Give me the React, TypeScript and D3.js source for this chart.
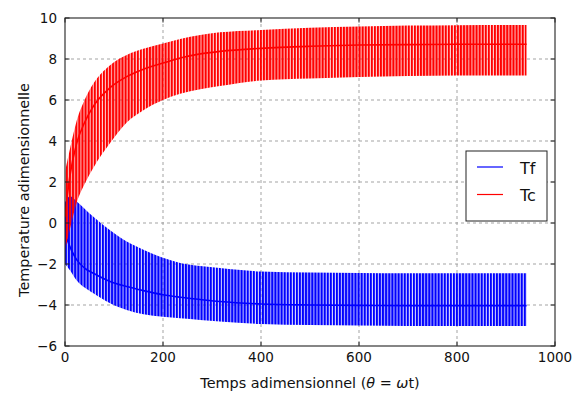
import React from "react";
import * as d3 from "d3";

// theta samples (x) where envelopes were read
const theta = [0, 10, 24, 40, 58, 92, 126, 160, 200, 235, 276, 316, 400, 500, 600, 700, 800, 942];

// Tc (red): upper envelope, central (dense) line, lower envelope
const tcUpper = [2.5, 3.6, 5.0, 6.0, 6.8, 7.7, 8.2, 8.5, 8.76, 8.98, 9.17, 9.3, 9.42, 9.52, 9.58, 9.63, 9.65, 9.66];
const tcMid = [0.3, 2.3, 3.9, 4.9, 5.7, 6.6, 7.14, 7.5, 7.8, 8.05, 8.25, 8.37, 8.52, 8.62, 8.68, 8.7, 8.72, 8.72];
const tcLower = [-1.3, -0.3, 1.0, 1.9, 2.7, 3.9, 4.9, 5.5, 6.0, 6.3, 6.52, 6.68, 6.95, 7.05, 7.12, 7.17, 7.2, 7.2];

// Tf (blue)
const tfUpper = [1.0, 1.3, 1.05, 0.7, 0.3, -0.35, -0.9, -1.3, -1.7, -1.95, -2.1, -2.2, -2.37, -2.42, -2.44, -2.45, -2.45, -2.45];
const tfMid = [-0.5, -1.15, -1.8, -2.2, -2.45, -2.85, -3.1, -3.3, -3.5, -3.62, -3.73, -3.83, -3.95, -4.0, -4.02, -4.03, -4.03, -4.03];
const tfLower = [-2.0, -2.3, -2.8, -3.15, -3.43, -3.92, -4.24, -4.45, -4.57, -4.65, -4.73, -4.81, -4.93, -4.98, -5.0, -5.02, -5.02, -5.02];

const xTicks = [0, 200, 400, 600, 800, 1000];
const yTicks = [-6, -4, -2, 0, 2, 4, 6, 8, 10];
const seriesNames = ["Tf", "Tc"];

const W = 576;
const H = 394;
const L = 65, R = 555, T = 18, B = 346;
const FONT = "DejaVu Sans, sans-serif";
const INK = "#111";

export default function App() {
  const x = d3.scaleLinear().domain([0, 1000]).range([L, R]);
  const y = d3.scaleLinear().domain([-6, 10]).range([B, T]);
  const period = x(2 * Math.PI) - x(0);

  const idx = theta.map((_, i) => i);
  const band = (up: number[], lo: number[]) =>
    d3
      .area<number>()
      .x((i) => x(theta[i]))
      .y0((i) => y(lo[i]))
      .y1((i) => y(up[i]))
      .curve(d3.curveMonotoneX)(idx) || "";
  const line = (v: number[]) =>
    d3
      .line<number>()
      .x((i) => x(theta[i]))
      .y((i) => y(v[i]))
      .curve(d3.curveMonotoneX)(idx) || "";

  const fmt = (v: number) => (v < 0 ? "\u2212" + Math.abs(v) : String(v));

  return (
    <svg
      width={W}
      height={H}
      style={{ position: "absolute", left: 0, top: 0, background: "#fff" }}
      fontFamily={FONT}
    >
      <defs>
        <pattern id="pBlue" patternUnits="userSpaceOnUse" width={period} height={10} x={L}>
          <rect x={0} y={0} width={period} height={10} fill="#0000ff" fillOpacity={0.15} />
          <rect x={0} y={0} width={2.1} height={10} fill="#0000ff" />
        </pattern>
        <pattern id="pRed" patternUnits="userSpaceOnUse" width={period} height={10} x={L + 1}>
          <rect x={0} y={0} width={period} height={10} fill="#ff0000" fillOpacity={0.15} />
          <rect x={0} y={0} width={2.1} height={10} fill="#ff0000" />
        </pattern>
        <clipPath id="plotClip">
          <rect x={L} y={T} width={R - L} height={B - T} />
        </clipPath>
      </defs>
      <rect x={0} y={0} width={W} height={H} fill="#fff" />

      {/* grid */}
      <g stroke="#999" strokeWidth={0.9} strokeDasharray="3,3">
        {xTicks.slice(1, -1).map((t) => (
          <line key={"gx" + t} x1={x(t)} x2={x(t)} y1={T} y2={B} />
        ))}
        {yTicks.slice(1, -1).map((t) => (
          <line key={"gy" + t} x1={L} x2={R} y1={y(t)} y2={y(t)} />
        ))}
      </g>

      <g clipPath="url(#plotClip)">
        <path d={band(tfUpper, tfLower)} fill="url(#pBlue)" />
        <path d={line(tfMid)} fill="none" stroke="#0000ff" strokeWidth={1.6} />
        <path d={band(tcUpper, tcLower)} fill="url(#pRed)" />
        <path d={line(tcMid)} fill="none" stroke="#ff0000" strokeWidth={1.6} />
      </g>

      {/* frame */}
      <rect x={L} y={T} width={R - L} height={B - T} fill="none" stroke="#222" strokeWidth={1.1} />

      {/* ticks */}
      <g stroke="#222" strokeWidth={1}>
        {xTicks.map((t) => (
          <g key={"tx" + t}>
            <line x1={x(t)} x2={x(t)} y1={B} y2={B - 4.5} />
            <line x1={x(t)} x2={x(t)} y1={T} y2={T + 4.5} />
          </g>
        ))}
        {yTicks.map((t) => (
          <g key={"ty" + t}>
            <line x1={L} x2={L + 4.5} y1={y(t)} y2={y(t)} />
            <line x1={R} x2={R - 4.5} y1={y(t)} y2={y(t)} />
          </g>
        ))}
      </g>

      <g fontSize={13.5} fill={INK}>
        {xTicks.map((t) => (
          <text key={"lx" + t} x={x(t)} y={B + 16} textAnchor="middle">
            {fmt(t)}
          </text>
        ))}
        {yTicks.map((t) => (
          <text key={"ly" + t} x={L - 8} y={y(t) + 5} textAnchor="end">
            {fmt(t)}
          </text>
        ))}
      </g>

      <text x={310} y={388} textAnchor="middle" fontSize={14.4} fill={INK}>
        Temps adimensionnel (<tspan fontStyle="italic">θ</tspan> = <tspan fontStyle="italic">ω</tspan>t)
      </text>
      <text
        transform={`translate(29, 190) rotate(-90)`}
        textAnchor="middle"
        fontSize={14.4}
        fill={INK}
      >
        Temperature adimensionnelle
      </text>

      {/* legend */}
      <g>
        <rect x={466} y={151} width={81} height={70} fill="#fff" stroke="#222" strokeWidth={1} />
        {seriesNames.map((n, i) => (
          <g key={n}>
            <line x1={477} x2={503} y1={167 + i * 27.5} y2={167 + i * 27.5} stroke={i === 0 ? "#0000ff" : "#ff0000"} strokeWidth={1.2} />
            <text x={520} y={173.5 + i * 27.5} fontSize={16} fill={INK}>
              {n}
            </text>
          </g>
        ))}
      </g>
    </svg>
  );
}
